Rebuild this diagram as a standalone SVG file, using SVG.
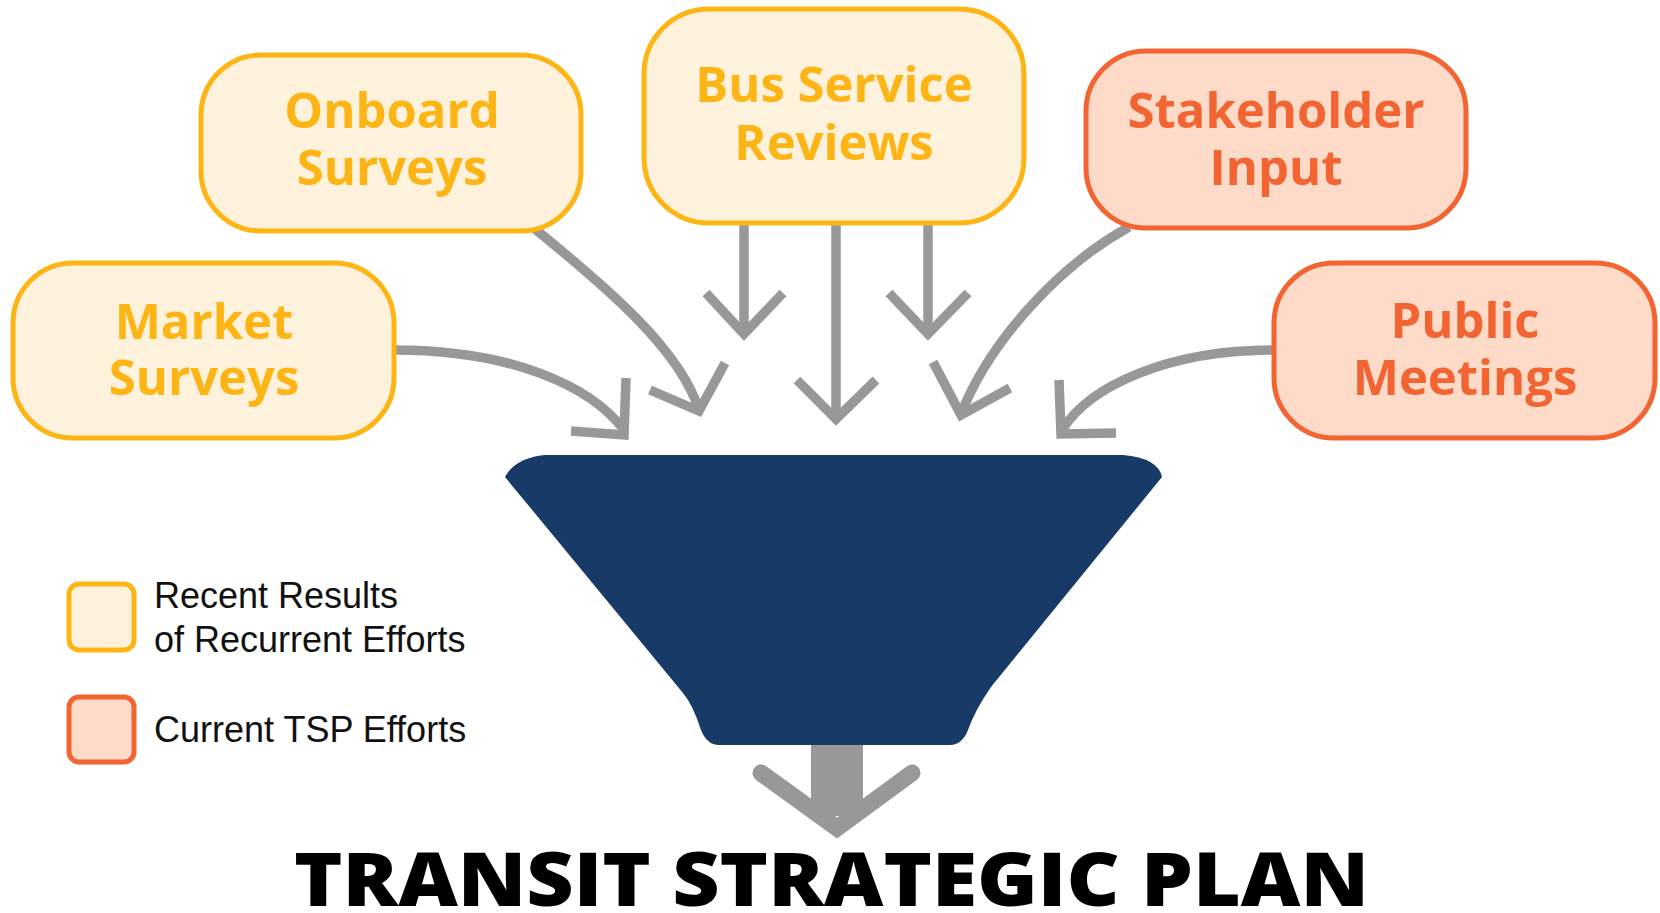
<svg xmlns="http://www.w3.org/2000/svg" width="1660" height="913" viewBox="0 0 1660 913">
<defs>
<style>
.box{stroke-width:5}
.rec{fill:#FEF2DC;stroke:#FDB515}
.cur{fill:#FDDBC8;stroke:#F26532}
.lbl{font-family:"Open Sans","Liberation Sans",sans-serif;font-weight:700;font-size:49px;text-anchor:middle}
.lrec{fill:#FDB515}
.lcur{fill:#F26532}
.con{fill:none;stroke:#97989A;stroke-width:9.5;stroke-linejoin:miter;stroke-miterlimit:10}
.leg{font-family:"Liberation Sans",Arial,sans-serif;font-size:36px;fill:#111}
</style>
</defs>
<rect width="1660" height="913" fill="#fff"/>

<g id="connectors">
  <path class="con" d="M394,350 C510,350 590,385 624,430"/>
  <polyline class="con" points="571,431 624,435 626,378"/>
  <path class="con" d="M535,229 C610,290 680,350 699,410"/>
  <polyline class="con" points="650,390 699,411 725,363"/>
  <path class="con" d="M744,224 V334"/>
  <polyline class="con" points="706,293 744,334 783,293"/>
  <path class="con" d="M836,224 V419"/>
  <polyline class="con" points="797,380 836,419 876,380"/>
  <path class="con" d="M928,224 V334"/>
  <polyline class="con" points="889,293 928,334 968,293"/>
  <path class="con" d="M1129,227 C1060,265 990,340 961,414"/>
  <polyline class="con" points="933,362 961,415 1010,388"/>
  <path class="con" d="M1273,350 C1170,350 1090,385 1062,430"/>
  <polyline class="con" points="1059,380 1061,434 1116,433"/>
  <rect x="811" y="740" width="52" height="76" fill="#97989A"/>
  <polyline points="761,773 837,828 912,773" fill="none" stroke="#97989A" stroke-width="17" stroke-linecap="round" stroke-linejoin="miter"/>
</g>

<g id="funnel">
  <path d="M545,455 H1123 Q1158,458 1162,477 L991,687 Q975,710 968,730 Q962,745 950,745 H719 Q707,745 701,730 Q693,705 683,693 L505,477 Q515,458 545,455 Z" fill="#173A66"/>
</g>

<g id="market">
  <rect class="box rec" x="13" y="263" width="381" height="175" rx="60"/>
  <text class="lbl lrec" x="204" y="339">Market</text>
  <text class="lbl lrec" x="204" y="395">Surveys</text>
</g>
<g id="onboard">
  <rect class="box rec" x="201" y="55" width="380" height="176" rx="60"/>
  <text class="lbl lrec" x="392" y="128">Onboard</text>
  <text class="lbl lrec" x="392" y="185">Surveys</text>
</g>
<g id="bus">
  <rect class="box rec" x="644" y="9" width="380" height="214" rx="65"/>
  <text class="lbl lrec" x="834" y="102">Bus Service</text>
  <text class="lbl lrec" x="834" y="160">Reviews</text>
</g>
<g id="stakeholder">
  <rect class="box cur" x="1086" y="51" width="380" height="177" rx="60"/>
  <text class="lbl lcur" x="1276" y="128">Stakeholder</text>
  <text class="lbl lcur" x="1276" y="185">Input</text>
</g>
<g id="public">
  <rect class="box cur" x="1274" y="263" width="381" height="175" rx="60"/>
  <text class="lbl lcur" x="1465" y="338">Public</text>
  <text class="lbl lcur" x="1465" y="395">Meetings</text>
</g>

<g id="legend">
  <rect class="box rec" x="69" y="584" width="65" height="66" rx="10"/>
  <rect class="box cur" x="69" y="697" width="65" height="65" rx="10"/>
  <text class="leg" x="154" y="608">Recent Results</text>
  <text class="leg" x="154" y="652">of Recurrent Efforts</text>
  <text class="leg" x="154" y="742">Current TSP Efforts</text>
</g>

<g id="title">
  <text x="294" y="906" textLength="1075" lengthAdjust="spacingAndGlyphs" font-family="'Open Sans','Liberation Sans',sans-serif" font-weight="800" font-size="74" fill="#000">TRANSIT STRATEGIC PLAN</text>
</g>
</svg>
